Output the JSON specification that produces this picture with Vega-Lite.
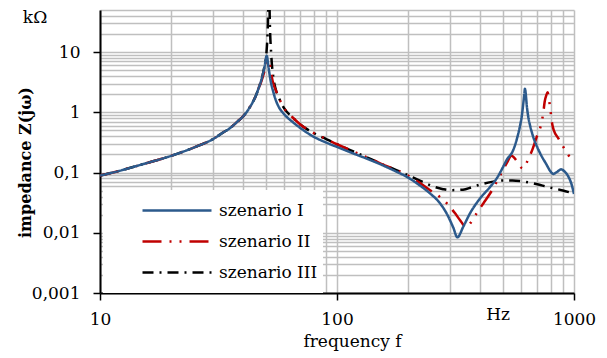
{
  "$schema": "https://vega.github.io/schema/vega-lite/v6.json",
  "width": 474,
  "height": 283,
  "autosize": {"type": "none"},
  "padding": {"left": 100, "top": 10, "right": 33, "bottom": 65},
  "background": "white",
  "config": {"view": {"stroke": null}, "font": "DejaVu Serif"},
  "layer": [
    {
      "data": {"values": [
        {"s":"szenario III","f":10,"Z":0.089},{"s":"szenario III","f":12,"Z":0.106},{"s":"szenario III","f":15,"Z":0.136},{"s":"szenario III","f":20,"Z":0.19},{"s":"szenario III","f":25,"Z":0.262},{"s":"szenario III","f":30,"Z":0.36},{"s":"szenario III","f":33,"Z":0.46},{"s":"szenario III","f":35,"Z":0.53},{"s":"szenario III","f":38,"Z":0.7},{"s":"szenario III","f":40,"Z":0.84},{"s":"szenario III","f":42,"Z":1.07},{"s":"szenario III","f":44,"Z":1.45},{"s":"szenario III","f":45.5,"Z":1.9},{"s":"szenario III","f":46.5,"Z":2.4},{"s":"szenario III","f":48,"Z":3.5},{"s":"szenario III","f":49.5,"Z":6.0},{"s":"szenario III","f":50.5,"Z":11},{"s":"szenario III","f":51.2,"Z":40},{"s":"szenario III","f":51.6,"Z":400},{"s":"szenario III","f":52,"Z":40},{"s":"szenario III","f":52.8,"Z":9},{"s":"szenario III","f":54,"Z":3.6},{"s":"szenario III","f":55,"Z":2.5},{"s":"szenario III","f":57,"Z":1.7},{"s":"szenario III","f":60,"Z":1.15},{"s":"szenario III","f":65,"Z":0.82},{"s":"szenario III","f":70,"Z":0.63},{"s":"szenario III","f":80,"Z":0.45},{"s":"szenario III","f":90,"Z":0.36},{"s":"szenario III","f":100,"Z":0.295},{"s":"szenario III","f":120,"Z":0.215},{"s":"szenario III","f":140,"Z":0.165},{"s":"szenario III","f":152,"Z":0.142},{"s":"szenario III","f":175,"Z":0.113},{"s":"szenario III","f":197,"Z":0.092},{"s":"szenario III","f":209,"Z":0.083},{"s":"szenario III","f":230,"Z":0.07},{"s":"szenario III","f":254,"Z":0.059},{"s":"szenario III","f":280,"Z":0.053},{"s":"szenario III","f":300,"Z":0.051},{"s":"szenario III","f":340,"Z":0.052},{"s":"szenario III","f":370,"Z":0.057},{"s":"szenario III","f":401,"Z":0.063},{"s":"szenario III","f":450,"Z":0.07},{"s":"szenario III","f":501,"Z":0.074},{"s":"szenario III","f":550,"Z":0.074},{"s":"szenario III","f":610,"Z":0.071},{"s":"szenario III","f":700,"Z":0.064},{"s":"szenario III","f":769,"Z":0.058},{"s":"szenario III","f":850,"Z":0.053},{"s":"szenario III","f":920,"Z":0.049},{"s":"szenario III","f":1000,"Z":0.045},
        {"s":"szenario II","f":10,"Z":0.089},{"s":"szenario II","f":12,"Z":0.106},{"s":"szenario II","f":15,"Z":0.136},{"s":"szenario II","f":20,"Z":0.19},{"s":"szenario II","f":25,"Z":0.262},{"s":"szenario II","f":30,"Z":0.36},{"s":"szenario II","f":33,"Z":0.46},{"s":"szenario II","f":35,"Z":0.53},{"s":"szenario II","f":38,"Z":0.7},{"s":"szenario II","f":40,"Z":0.84},{"s":"szenario II","f":42,"Z":1.07},{"s":"szenario II","f":44,"Z":1.45},{"s":"szenario II","f":45.5,"Z":1.9},{"s":"szenario II","f":46.5,"Z":2.4},{"s":"szenario II","f":48,"Z":3.3},{"s":"szenario II","f":49.5,"Z":4.9},{"s":"szenario II","f":50.5,"Z":6.4},{"s":"szenario II","f":51.5,"Z":7.5},{"s":"szenario II","f":52.5,"Z":5.0},{"s":"szenario II","f":53.5,"Z":3.3},{"s":"szenario II","f":55,"Z":2.4},{"s":"szenario II","f":57,"Z":1.7},{"s":"szenario II","f":60,"Z":1.15},{"s":"szenario II","f":65,"Z":0.82},{"s":"szenario II","f":70,"Z":0.63},{"s":"szenario II","f":80,"Z":0.45},{"s":"szenario II","f":90,"Z":0.36},{"s":"szenario II","f":100,"Z":0.295},{"s":"szenario II","f":120,"Z":0.215},{"s":"szenario II","f":140,"Z":0.165},{"s":"szenario II","f":152,"Z":0.142},{"s":"szenario II","f":175,"Z":0.113},{"s":"szenario II","f":197,"Z":0.092},{"s":"szenario II","f":220,"Z":0.07},{"s":"szenario II","f":247,"Z":0.051},{"s":"szenario II","f":270,"Z":0.04},{"s":"szenario II","f":290,"Z":0.031},{"s":"szenario II","f":315,"Z":0.021},{"s":"szenario II","f":330,"Z":0.0163},{"s":"szenario II","f":350,"Z":0.0126},{"s":"szenario II","f":368,"Z":0.015},{"s":"szenario II","f":388,"Z":0.021},{"s":"szenario II","f":415,"Z":0.031},{"s":"szenario II","f":443,"Z":0.0453},{"s":"szenario II","f":470,"Z":0.068},{"s":"szenario II","f":495,"Z":0.1},{"s":"szenario II","f":520,"Z":0.143},{"s":"szenario II","f":545,"Z":0.19},{"s":"szenario II","f":560,"Z":0.175},{"s":"szenario II","f":580,"Z":0.145},{"s":"szenario II","f":600,"Z":0.12},{"s":"szenario II","f":611,"Z":0.117},{"s":"szenario II","f":625,"Z":0.135},{"s":"szenario II","f":641,"Z":0.166},{"s":"szenario II","f":668,"Z":0.243},{"s":"szenario II","f":696,"Z":0.39},{"s":"szenario II","f":731,"Z":0.7},{"s":"szenario II","f":743,"Z":1.02},{"s":"szenario II","f":752,"Z":1.5},{"s":"szenario II","f":765,"Z":1.95},{"s":"szenario II","f":774,"Z":2.15},{"s":"szenario II","f":785,"Z":1.6},{"s":"szenario II","f":797,"Z":1.02},{"s":"szenario II","f":808,"Z":0.66},{"s":"szenario II","f":823,"Z":0.495},{"s":"szenario II","f":859,"Z":0.37},{"s":"szenario II","f":900,"Z":0.27},{"s":"szenario II","f":946,"Z":0.196},{"s":"szenario II","f":1000,"Z":0.151},
        {"s":"szenario I","f":10,"Z":0.089},{"s":"szenario I","f":12,"Z":0.106},{"s":"szenario I","f":15,"Z":0.136},{"s":"szenario I","f":20,"Z":0.19},{"s":"szenario I","f":25,"Z":0.262},{"s":"szenario I","f":30,"Z":0.36},{"s":"szenario I","f":33,"Z":0.46},{"s":"szenario I","f":35,"Z":0.53},{"s":"szenario I","f":38,"Z":0.7},{"s":"szenario I","f":40,"Z":0.84},{"s":"szenario I","f":42,"Z":1.07},{"s":"szenario I","f":44,"Z":1.45},{"s":"szenario I","f":45.5,"Z":1.9},{"s":"szenario I","f":46.5,"Z":2.4},{"s":"szenario I","f":48,"Z":3.5},{"s":"szenario I","f":49.5,"Z":5.8},{"s":"szenario I","f":50.5,"Z":8.7},{"s":"szenario I","f":51.5,"Z":5.3},{"s":"szenario I","f":52.5,"Z":3.3},{"s":"szenario I","f":54,"Z":2.1},{"s":"szenario I","f":55,"Z":1.65},{"s":"szenario I","f":57,"Z":1.2},{"s":"szenario I","f":60,"Z":0.92},{"s":"szenario I","f":65,"Z":0.69},{"s":"szenario I","f":70,"Z":0.55},{"s":"szenario I","f":80,"Z":0.39},{"s":"szenario I","f":90,"Z":0.315},{"s":"szenario I","f":100,"Z":0.266},{"s":"szenario I","f":120,"Z":0.2},{"s":"szenario I","f":140,"Z":0.158},{"s":"szenario I","f":152,"Z":0.138},{"s":"szenario I","f":175,"Z":0.107},{"s":"szenario I","f":197,"Z":0.085},{"s":"szenario I","f":220,"Z":0.064},{"s":"szenario I","f":247,"Z":0.045},{"s":"szenario I","f":270,"Z":0.032},{"s":"szenario I","f":290,"Z":0.021},{"s":"szenario I","f":310,"Z":0.012},{"s":"szenario I","f":322,"Z":0.0084},{"s":"szenario I","f":341,"Z":0.0126},{"s":"szenario I","f":364,"Z":0.021},{"s":"szenario I","f":401,"Z":0.037},{"s":"szenario I","f":443,"Z":0.058},{"s":"szenario I","f":472,"Z":0.08},{"s":"szenario I","f":500,"Z":0.12},{"s":"szenario I","f":520,"Z":0.162},{"s":"szenario I","f":555,"Z":0.24},{"s":"szenario I","f":575,"Z":0.37},{"s":"szenario I","f":591,"Z":0.58},{"s":"szenario I","f":603,"Z":0.9},{"s":"szenario I","f":611,"Z":1.4},{"s":"szenario I","f":617,"Z":2.0},{"s":"szenario I","f":621,"Z":2.47},{"s":"szenario I","f":626,"Z":2.0},{"s":"szenario I","f":632,"Z":1.3},{"s":"szenario I","f":641,"Z":0.85},{"s":"szenario I","f":655,"Z":0.57},{"s":"szenario I","f":673,"Z":0.39},{"s":"szenario I","f":695,"Z":0.28},{"s":"szenario I","f":719,"Z":0.21},{"s":"szenario I","f":767,"Z":0.134},{"s":"szenario I","f":795,"Z":0.105},{"s":"szenario I","f":818,"Z":0.095},{"s":"szenario I","f":850,"Z":0.103},{"s":"szenario I","f":881,"Z":0.113},{"s":"szenario I","f":910,"Z":0.105},{"s":"szenario I","f":946,"Z":0.086},{"s":"szenario I","f":975,"Z":0.065},{"s":"szenario I","f":1000,"Z":0.044}
      ]},
      "mark": {"type": "line", "clip": true, "strokeWidth": 2.5, "interpolate": "monotone"},
      "encoding": {
        "x": {
          "field": "f", "type": "quantitative",
          "scale": {"type": "log", "domain": [10, 1000], "nice": false},
          "axis": {
            "values": [10,20,30,40,50,60,70,80,90,100,200,300,400,500,600,700,800,900,1000],
            "grid": true, "gridColor": "#BFBFBF", "gridWidth": 1.5,
            "domainColor": "black", "domainWidth": 2,
            "tickColor": {"condition": {"test": "indexof([10,100,1000], datum.value) >= 0", "value": "black"}, "value": "transparent"},
            "tickSize": 7, "tickWidth": 1.5,
            "labelExpr": "indexof([10,100,1000], datum.value) >= 0 ? '' + datum.value : ''",
            "labelFont": "DejaVu Serif", "labelFontSize": 17, "labelColor": "black",
            "labelPadding": 11, "labelOverlap": false, "labelFlush": false, "labelBound": false,
            "title": "frequency f", "titleFont": "DejaVu Serif", "titleFontSize": 17,
            "titleFontWeight": "normal", "titleColor": "black",
            "titleX": 252, "titleY": 48, "titleBaseline": "middle", "titleAlign": "center"
          }
        },
        "y": {
          "field": "Z", "type": "quantitative",
          "scale": {"type": "log", "domain": [0.001, 50], "nice": false},
          "axis": {
            "values": [0.001,0.002,0.003,0.004,0.005,0.006,0.007,0.008,0.009,0.01,0.02,0.03,0.04,0.05,0.06,0.07,0.08,0.09,0.1,0.2,0.3,0.4,0.5,0.6,0.7,0.8,0.9,1,2,3,4,5,6,7,8,9,10,20,30,40,50],
            "grid": true, "gridColor": "#BFBFBF", "gridWidth": 1.5,
            "domainColor": "black", "domainWidth": 2,
            "tickColor": {"condition": {"test": "indexof([0.001,0.01,0.1,1,10], datum.value) >= 0", "value": "black"}, "value": "transparent"},
            "tickSize": 7, "tickWidth": 1.5,
            "labelExpr": "indexof([0.001,0.01,0.1,1,10], datum.value) >= 0 ? replace('' + datum.value, '.', ',') : ''",
            "labelFont": "DejaVu Serif", "labelFontSize": 17, "labelColor": "black",
            "labelPadding": 13, "labelOverlap": false, "labelFlush": false, "labelBound": false,
            "title": "impedance Z(jω)", "titleFont": "DejaVu Serif", "titleFontSize": 16,
            "titleFontWeight": "bold", "titleColor": "black",
            "titleX": -75, "titleY": 152, "titleBaseline": "middle", "titleAlign": "center", "titleAngle": -90
          }
        },
        "color": {
          "field": "s", "type": "nominal",
          "scale": {"domain": ["szenario I", "szenario II", "szenario III"], "range": ["#2C5A8C", "#C00000", "#000000"]},
          "legend": {
            "orient": "none", "legendX": 3, "legendY": 180, "title": null,
            "fillColor": "white", "padding": 5, "symbolType": "stroke", "symbolSize": 4761,
            "symbolStrokeWidth": 2.5, "symbolOffset": 33, "clipHeight": 31, "rowPadding": 0,
            "labelFont": "DejaVu Serif", "labelFontSize": 17, "labelColor": "black", "labelOffset": 6,
            "labelExpr": "datum.label + '\u00a0\u00a0\u00a0\u00a0'", "labelLimit": 300
          }
        },
        "strokeDash": {
          "field": "s", "type": "nominal",
          "scale": {"domain": ["szenario I", "szenario II", "szenario III"], "range": [[1, 0], [19, 8, 2, 8, 2, 8], [11, 6, 2, 6]]},
          "legend": {
            "orient": "none", "legendX": 3, "legendY": 180, "title": null,
            "fillColor": "white", "padding": 5, "symbolType": "stroke", "symbolSize": 4761,
            "symbolStrokeWidth": 2.5, "symbolOffset": 33, "clipHeight": 31, "rowPadding": 0,
            "labelFont": "DejaVu Serif", "labelFontSize": 17, "labelColor": "black", "labelOffset": 6,
            "labelExpr": "datum.label + '\u00a0\u00a0\u00a0\u00a0'", "labelLimit": 300
          }
        }
      }
    },
    {
      "data": {"values": [
        {"label": "kΩ", "f": 5.32, "Z": 36.8},
        {"label": "Hz", "f": 478, "Z": 0.000431}
      ]},
      "mark": {"type": "text", "font": "DejaVu Serif", "fontSize": 17, "color": "black", "baseline": "middle", "align": "center", "clip": false},
      "encoding": {
        "x": {"field": "f", "type": "quantitative"},
        "y": {"field": "Z", "type": "quantitative"},
        "text": {"field": "label"}
      }
    }
  ]
}
